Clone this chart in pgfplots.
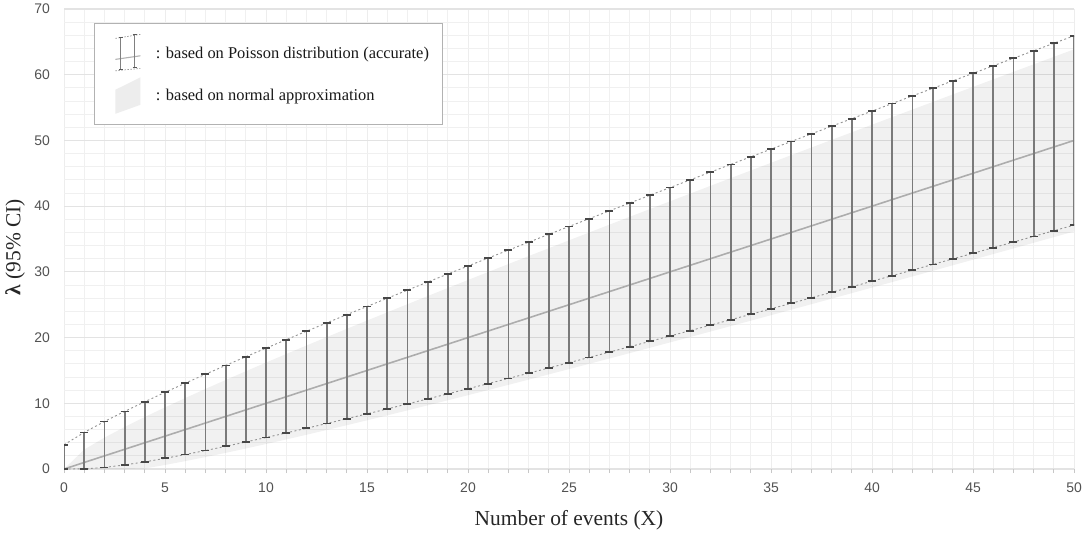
\documentclass[border=0pt]{standalone}
\usepackage{fontspec}
\setmainfont{Liberation Serif}
\newfontfamily\arial{Liberation Sans}
\usepackage{pgfplots}
\pgfplotsset{compat=1.18}
\usepackage{pgfplotstable}
\usepgfplotslibrary{fillbetween}

\pgfplotstableread{
x lo hi nlo nhi
0 0 3.689 0 0
1 0.025 5.572 0 2.960
2 0.242 7.225 0 4.772
3 0.619 8.767 0 6.395
4 1.090 10.242 0.080 7.920
5 1.623 11.668 0.617 9.383
6 2.202 13.059 1.199 10.801
7 2.814 14.423 1.814 12.186
8 3.454 15.763 2.456 13.544
9 4.115 17.085 3.120 14.880
10 4.795 18.390 3.802 16.198
11 5.491 19.682 4.499 17.501
12 6.201 20.962 5.210 18.790
13 6.922 22.230 5.933 20.067
14 7.654 23.490 6.666 21.334
15 8.395 24.740 7.409 22.591
16 9.145 25.983 8.160 23.840
17 9.903 27.219 8.919 25.081
18 10.668 28.448 9.684 26.316
19 11.439 29.671 10.457 27.543
20 12.217 30.888 11.235 28.765
21 12.999 32.101 12.018 29.982
22 13.787 33.308 12.807 31.193
23 14.580 34.511 13.600 32.400
24 15.377 35.710 14.398 33.602
25 16.179 36.905 15.200 34.800
26 16.984 38.096 16.006 35.994
27 17.793 39.284 16.816 37.184
28 18.606 40.468 17.629 38.371
29 19.422 41.649 18.445 39.555
30 20.241 42.827 19.265 40.735
31 21.063 44.002 20.087 41.913
32 21.888 45.174 20.913 43.087
33 22.716 46.344 21.741 44.259
34 23.546 47.512 22.571 45.429
35 24.379 48.677 23.404 46.596
36 25.214 49.839 24.240 47.760
37 26.052 51.000 25.078 48.922
38 26.891 52.158 25.918 50.082
39 27.733 53.314 26.760 51.240
40 28.577 54.469 27.604 52.396
41 29.423 55.621 28.450 53.550
42 30.271 56.772 29.298 54.702
43 31.121 57.921 30.147 55.853
44 31.973 59.068 30.999 57.001
45 32.826 60.214 31.852 58.148
46 33.681 61.358 32.707 59.293
47 34.538 62.500 33.563 60.437
48 35.397 63.641 34.421 61.579
49 36.257 64.781 35.280 62.720
50 37.118 65.919 36.141 63.859
}\poisson

\pgfplotstableread{
x m
0 0
50 50
}\meanline

\begin{document}
\begin{tikzpicture}
\begin{axis}[
  name=ax,
  scale only axis,
  width=1010bp, height=460bp,
  xmin=0, xmax=50, ymin=0, ymax=70,
  xtick={0,5,...,50}, ytick={0,10,...,70},
  minor x tick num=4, minor y tick num=4,
  grid=both,
  major grid style={draw=black!11, line width=1.1bp},
  minor grid style={draw=black!6, line width=0.9bp},
  major x grid style={draw=black!7, line width=1bp},
  axis line style={draw=none},
  xtick pos=bottom, ytick pos=left,
  tick align=outside,
  major tick length=4bp, minor tick length=4bp,
  xtick style={draw=black!22, line width=0.9bp},
  minor x tick style={draw=black!22, line width=0.9bp},
  ytick style={draw=none},
  minor y tick style={draw=none},
  extra y ticks={0}, extra y tick labels={},
  extra y tick style={grid style={draw=black!17, line width=2bp}},
  /pgf/number format/assume math mode=true,
  tick label style={font=\arial\fontsize{14}{16}\selectfont, text=black!68},
  xticklabel style={inner sep=0pt, anchor=north, yshift=-10bp},
  yticklabel style={inner sep=0pt, anchor=east, xshift=-10bp},
  xlabel={Number of events (X)},
  ylabel={\textbf{λ} (95\% CI)},
  every axis x label/.style={at={(axis description cs:0.5,0)}, anchor=base, yshift=-56bp,
     font=\fontsize{21.5}{24}\selectfont, text=black!85},
  every axis y label/.style={at={(axis description cs:0,0.5)}, anchor=center, rotate=90,
     xshift=-8bp, yshift=49bp, font=\fontsize{21.5}{24}\selectfont, text=black!85},
  legend cell align=left,
  legend style={at={(axis description cs:0.0297,0.9696)}, anchor=north west,
    draw=black!30, line width=0.8bp, fill=white,
    font=\fontsize{16.5}{19}\selectfont, text=black!90,
    inner xsep=11bp, inner ysep=10.5bp, row sep=4bp,
    /tikz/every odd column/.append style={column sep=13bp}},
]
% legend images
\addlegendimage{legend image code/.code={
  \path[draw=none, fill=none] (-10bp,-19bp) rectangle (25bp,19bp);
  \draw[black!40, line width=0.7bp, dash pattern=on 1.5bp off 1.5bp] (0bp,14.7bp) -- (25bp,18.7bp);
  \draw[black!40, line width=0.7bp, dash pattern=on 1.5bp off 1.5bp] (0bp,-17.7bp) -- (25bp,-15.3bp);
  \draw[black!30, line width=1.1bp, solid] (0bp,-6.3bp) -- (25bp,-2.7bp);
  \draw[black!50, line width=1bp, solid] (5.6bp,15.3bp) -- (5.6bp,-16bp);
  \draw[black!50, line width=1bp, solid] (19.3bp,18.7bp) -- (19.3bp,-14.7bp);
  \draw[black!65, line width=1bp, solid] (3.6bp,15.3bp) -- (7.6bp,15.3bp);
  \draw[black!65, line width=1bp, solid] (3.6bp,-16bp) -- (7.6bp,-16bp);
  \draw[black!65, line width=1bp, solid] (17.3bp,18.7bp) -- (21.3bp,18.7bp);
  \draw[black!65, line width=1bp, solid] (17.3bp,-14.7bp) -- (21.3bp,-14.7bp);
}}
\addlegendentry{: based on Poisson distribution (accurate)}
\addlegendimage{legend image code/.code={
  \path[draw=none, fill=none] (-10bp,-19bp) rectangle (25bp,19bp);
  \path[fill=black!7, draw=none] (0bp,5.3bp) -- (25bp,17.7bp) -- (25bp,-9.7bp) -- (0bp,-18.7bp) -- cycle;
}}
\addlegendentry{: based on normal approximation}

% normal approximation band
\addplot[name path=nup, draw=none, forget plot] table[x=x, y=nhi] {\poisson};
\addplot[name path=nlow, draw=none, forget plot] table[x=x, y=nlo] {\poisson};
\addplot[fill=black, fill opacity=0.055, draw=none, forget plot] fill between[of=nup and nlow];

% mean line
\addplot[black!32, line width=1.6bp, forget plot] table[x=x, y=m] {\meanline};

% dotted bounds
\addplot[black!42, line width=0.9bp, dash pattern=on 2bp off 2.5bp, forget plot] table[x=x, y=hi] {\poisson};
\addplot[black!42, line width=0.9bp, dash pattern=on 2bp off 2.5bp, forget plot] table[x=x, y=lo] {\poisson};

% exact Poisson CI error bars
\addplot[draw=none, mark=none, forget plot,
  error bars/.cd, y dir=both, y explicit,
  error bar style={draw=black!52, line width=1.8bp, solid},
  error mark options={rotate=90, draw=black!72, mark size=4bp, line width=1.8bp, solid}]
  table[x=x, y expr=(\thisrow{lo}+\thisrow{hi})/2,
        y error plus expr=(\thisrow{hi}-\thisrow{lo})/2,
        y error minus expr=(\thisrow{hi}-\thisrow{lo})/2] {\poisson};
\end{axis}
\pgfresetboundingbox
\path[use as bounding box] ([xshift=-64bp,yshift=-63bp]ax.south west) rectangle ([xshift=10bp,yshift=9bp]ax.north east);
\end{tikzpicture}
\end{document}
